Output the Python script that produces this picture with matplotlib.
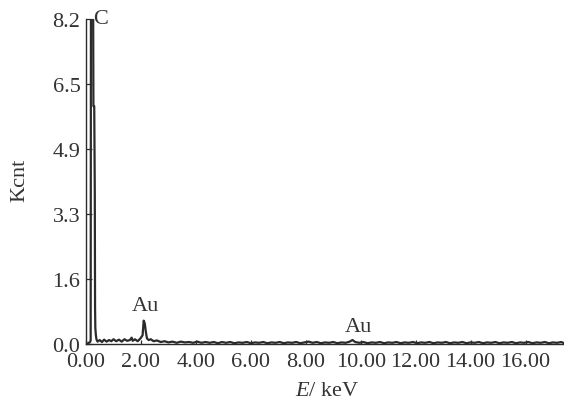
import matplotlib
matplotlib.use("Agg")
import matplotlib.pyplot as plt

# ---------- EDS spectrum (energy in keV, counts in Kcnt) ----------
energy_kev = [0.00, 0.08, 0.15, 0.17, 0.18, 0.26, 0.27, 0.30, 0.32, 0.33, 0.34,
              0.36, 0.38, 0.42, 0.50, 0.58, 0.66, 0.75, 0.84, 0.92, 1.00, 1.10,
              1.20, 1.30, 1.40, 1.50, 1.60, 1.66, 1.70, 1.78, 1.88, 1.98, 2.06,
              2.10, 2.14, 2.18, 2.22, 2.28, 2.36, 2.46, 2.58, 2.72, 2.86, 3.00,
              3.15, 3.30, 3.45, 3.60, 3.75, 3.90, 4.05, 4.20, 4.35, 4.50, 4.65,
              4.80, 4.95, 5.10, 5.25, 5.40, 5.55, 5.70, 5.85, 6.00, 6.15, 6.30,
              6.45, 6.60, 6.75, 6.90, 7.05, 7.20, 7.35, 7.50, 7.65, 7.80, 7.95,
              8.10, 8.25, 8.40, 8.55, 8.70, 8.85, 9.00, 9.15, 9.30, 9.45, 9.60,
              9.70, 9.80, 9.95, 10.10, 10.25, 10.40, 10.55, 10.70, 10.85, 11.00,
              11.15, 11.30, 11.45, 11.60, 11.75, 11.90, 12.05, 12.20, 12.35,
              12.50, 12.65, 12.80, 12.95, 13.10, 13.25, 13.40, 13.55, 13.70,
              13.85, 14.00, 14.15, 14.30, 14.45, 14.60, 14.75, 14.90, 15.05,
              15.20, 15.35, 15.50, 15.65, 15.80, 15.95, 16.10, 16.25, 16.40,
              16.55, 16.70, 16.85, 17.00, 17.15, 17.30, 17.40]
counts_kcnt = [0.00, 0.02, 0.05, 0.10, 8.60, 8.60, 6.00, 6.00, 3.80, 0.90, 0.40,
               0.22, 0.12, 0.06, 0.10, 0.05, 0.11, 0.06, 0.10, 0.07, 0.12, 0.07,
               0.11, 0.06, 0.12, 0.08, 0.10, 0.16, 0.08, 0.12, 0.07, 0.14, 0.22,
               0.59, 0.52, 0.30, 0.14, 0.10, 0.12, 0.07, 0.09, 0.05, 0.07, 0.04,
               0.06, 0.03, 0.06, 0.04, 0.05, 0.03, 0.06, 0.03, 0.05, 0.03, 0.05,
               0.02, 0.05, 0.03, 0.05, 0.02, 0.04, 0.03, 0.05, 0.02, 0.04, 0.03,
               0.05, 0.02, 0.04, 0.03, 0.05, 0.02, 0.04, 0.03, 0.05, 0.02, 0.04,
               0.06, 0.03, 0.05, 0.02, 0.04, 0.03, 0.05, 0.02, 0.04, 0.03, 0.06,
               0.10, 0.05, 0.03, 0.05, 0.02, 0.04, 0.03, 0.05, 0.02, 0.04, 0.03,
               0.05, 0.02, 0.04, 0.03, 0.05, 0.02, 0.04, 0.03, 0.05, 0.02, 0.04,
               0.03, 0.05, 0.02, 0.04, 0.03, 0.05, 0.02, 0.04, 0.03, 0.05, 0.02,
               0.04, 0.03, 0.05, 0.02, 0.04, 0.03, 0.05, 0.02, 0.04, 0.03, 0.05,
               0.02, 0.04, 0.03, 0.05, 0.02, 0.04, 0.03, 0.05, 0.02]

x_ticks = [0, 2, 4, 6, 8, 10, 12, 14, 16]
x_tick_labels = ["0.00", "2.00", "4.00", "6.00", "8.00", "10.00", "12.00", "14.00", "16.00"]
y_ticks = [0.0, 1.64, 3.28, 4.92, 6.56, 8.2]
y_tick_labels = ["0.0", "1.6", "3.3", "4.9", "6.5", "8.2"]

# peak labels: (text, energy, height)
peak_labels = [("C", 0.25, 8.2), ("Au", 2.18, 0.98), ("Au", 9.93, 0.45)]

plt.rcParams["font.family"] = ["Liberation Serif", "DejaVu Serif"]
plt.rcParams["mathtext.fontset"] = "custom"
plt.rcParams["mathtext.rm"] = "Liberation Serif"
plt.rcParams["mathtext.it"] = "Liberation Serif:italic"

ink = "#2b2b2b"
fig = plt.figure(figsize=(5.64, 4.02), dpi=100)
ax = fig.add_axes([86 / 564, 57 / 402, 478 / 564, 325 / 402])

ax.plot(energy_kev, counts_kcnt, color=ink, linewidth=1.6, clip_on=True)

ax.set_xlim(0, 17.4)
ax.set_ylim(0, 8.2)
ax.set_xticks(x_ticks)
ax.set_xticklabels(x_tick_labels)
ax.set_yticks(y_ticks)
ax.set_yticklabels(y_tick_labels)

for side in ["top", "right"]:
    ax.spines[side].set_visible(False)
for side in ["left", "bottom"]:
    ax.spines[side].set_color(ink)
    ax.spines[side].set_linewidth(1.0)

ax.tick_params(axis="both", direction="in", colors=ink, labelcolor="#333333",
               labelsize=16, width=0.9)
ax.tick_params(axis="y", length=4, pad=4)
ax.tick_params(axis="x", length=3, pad=6)

for txt, e, h in peak_labels:
    ax.text(e, h, txt, ha="left" if txt == "C" else "center", va="center",
            fontsize=16, color="#333333", clip_on=False)

fig.text(20 / 564, 1 - 180 / 402, "Kcnt", rotation=90, ha="center", va="center",
         fontsize=16, color="#333333")
fig.text(327 / 564, 1 - 392 / 402, r"$E$/ keV", ha="center", va="center",
         fontsize=16, color="#333333")

fig.savefig("out.png", dpi=100)
